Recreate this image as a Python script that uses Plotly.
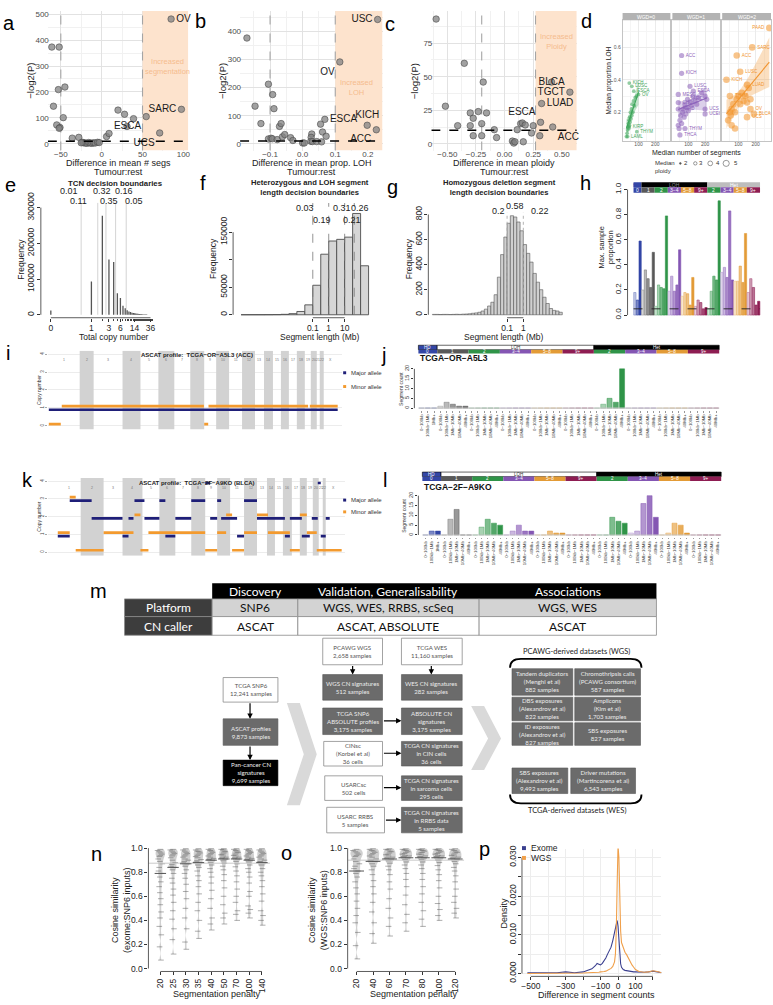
import numpy as np
import plotly.graph_objects as go

W, H = 773, 1005
SANS = "Liberation Sans, Arial, sans-serif"
CAL = "Lato, Open Sans, sans-serif"

# ============================ DATA ============================
# (a) difference in mean number of segments
a_x = [-61, -52, -59, -53, -45, -47, -55, -51, -52, -36, -28, -23.5, -22, -20, -18, -16, -14, -12, -10, -8,
       -5, -3, -25, 6, 9, 20, 28, 31, 39, 54.5, 71, 85, 97.6]
a_y = [373, 373, 145, 209, 219, 101, 73, 63, 60, 22, 25, 6, 4, 3, 2, 5, 3, 2, 4, 3,
       6, 5, 4, 28, 40, 130, 114, 67, 97, 105, 42, 481, 133]
a_lab = [''] * 29 + ['ESCA', 'UCS', 'OV', 'SARC']
# (b) difference in mean proportion LOH
b_x = [-0.171, -0.105, -0.092, -0.088, -0.146, -0.128, -0.105, -0.097, -0.093, -0.078,
       -0.062, -0.071, -0.066, -0.055, -0.037, -0.03, 0.0, 0.005, 0.028, 0.026,
       0.025, 0.03, 0.043, 0.055, 0.061, 0.058, 0.072, 0.068, 0.114, 0.23, 0.198, 0.226]
b_y = [376, 212, 175, 125, 134, 72, 17.5, 20, 18, 15, 25, 62, 72, 33, 22, 12, 3, 3, 35, 23,
       9, 8, 8, 70, 42, 7, 27, 87, 291, 442, 66, 50]
b_lab = [''] * 27 + ['ESCA', 'OV', 'USC', 'KICH', 'ACC']
# (c) difference in mean ploidy
c_x = [-0.598, -0.352, -0.517, -0.187, -0.30, -0.23, -0.158, -0.274, -0.30, -0.41,
       -0.274, -0.2, -0.2, -0.09, -0.07, 0.068, 0.08, 0.09, 0.11, 0.14,
       0.155, 0.18, 0.25, 0.235, 0.163, 0.307, 0.323, 0.314, 0.41, 0.57, 0.42]
c_y = [93, 60, 28, 46, 23, 24, 23, 19, 13.5, 13.5, 6, 15, 6, 10.5, 4.6, 2, 0.5, 1.5, 10.5, 15,
       15.5, 14, 13.5, 8, 1.5, 6, 30, 16, 46, 38.5, 12.5]
c_lab = [''] * 26 + ['LUAD', 'ESCA', 'BLCA', 'TGCT', 'ACC']

# (d) median segments vs median LOH by WGD status
d0_x = [28, 32, 35, 38, 40, 42, 44, 46, 48, 50, 52, 55, 58, 60, 62, 66, 70, 75, 80, 88, 45, 60, 72, 100, 45, 35, 90]
d0_y = [0.05, 0.07, 0.09, 0.11, 0.13, 0.10, 0.15, 0.12, 0.17, 0.14, 0.20, 0.16, 0.22, 0.18, 0.25, 0.20, 0.27,
        0.24, 0.29, 0.30, 0.38, 0.36, 0.33, 0.31, 0.11, 0.05, 0.08]
d0_lab = [''] * 20 + ['KICH', 'LUSC', 'ESCA', 'OV', 'KIRP', 'LAML', 'THYM']
d0_ploidy = [2] * 27
d1_x = [40, 45, 50, 55, 60, 65, 70, 75, 80, 85, 90, 95, 100, 110, 120, 130, 140, 150, 160, 180, 200,
        60, 60, 110, 130, 40, 40, 40, 210, 200, 200, 80, 50]
d1_y = [0.12, 0.10, 0.15, 0.18, 0.13, 0.20, 0.22, 0.17, 0.25, 0.19, 0.23, 0.28, 0.21, 0.26, 0.24, 0.30, 0.27,
        0.25, 0.29, 0.32, 0.30, 0.55, 0.44, 0.36, 0.33, 0.31, 0.26, 0.22, 0.28, 0.22, 0.19, 0.10, 0.06]
d1_lab = [''] * 21 + ['ACC', 'KICH', 'LUSC', 'ESCA', 'MESO', 'CHOL', 'PAAD', 'SARC', 'UCS', 'UCEC', 'THYM', 'THCA']
d1_ploidy = [3] * 33
d2_x = [40, 50, 55, 60, 70, 80, 90, 100, 110, 120, 130, 140, 150, 160, 170, 60, 80,
        280, 180, 90, 110, 30, 150, 50, 190, 170, 150]
d2_y = [0.15, 0.20, 0.18, 0.22, 0.25, 0.20, 0.28, 0.30, 0.25, 0.32, 0.27, 0.30, 0.26, 0.35, 0.28, 0.12, 0.10,
        0.72, 0.60, 0.55, 0.45, 0.40, 0.37, 0.30, 0.19, 0.22, 0.17]
d2_lab = [''] * 17 + ['PAAD', 'SARC', 'ACC', 'LUSC', 'KICH', 'LUAD', 'THYM', 'BLCA', 'OV', 'UCS']
d2_ploidy = [4] * 27

# (e) TCN histogram
e_freq = [12000, 93000, 277000, 155000, 148000, 60000, 47000, 25000, 18000, 13000,
          9500, 7500, 6000, 5000, 4200, 3500, 3000, 2600, 2200, 1900,
          1600, 1400, 1200, 1050, 900, 800, 700, 620, 550, 480,
          420, 380, 340, 300, 270, 240, 210, 190, 170, 150,
          130, 115, 100, 90, 80, 70, 62, 55, 48, 42,
          37, 33, 29, 25, 22, 19, 16, 14, 12, 10]
e_ticks = [0, 1, 3, 6, 14, 36]
e_bounds = [0.5, 1.5, 2.5, 4.5, 8.5]
e_props = ['0.01', '0.11', '0.32', '0.35', '0.16', '0.05']
# (f) het / LOH segment length histogram (log10 Mb bins)
f_bin_lo = [-5.5, -5.0, -4.5, -4.0, -3.5, -3.0, -2.5, -2.0, -1.5, -1.0, -0.5, 0.0, 0.5, 1.0, 1.5, 2.0]
f_counts = [50, 80, 100, 150, 300, 800, 2000, 6000, 18000, 53600, 110000, 134000, 137000, 141000, 184000, 89000]
f_bounds = [0.1, 1, 10, 40]
f_props = ['0.03', '0.19', '0.31', '0.21', '0.26']
# (g) homozygous deletion segment length histogram
g_bin_lo = [-5.6, -5.4, -5.2, -5.0, -4.8, -4.6, -4.4, -4.2, -4.0, -3.8, -3.6, -3.4, -3.2, -3.0,
            -2.8, -2.6, -2.4, -2.2, -2.0, -1.8, -1.6, -1.4, -1.2, -1.0, -0.8, -0.6, -0.4, -0.2,
            0.0, 0.2, 0.4, 0.6, 0.8, 1.0, 1.2, 1.4, 1.6, 1.8, 2.0, 2.2]
g_counts = [3, 3, 2, 3, 3, 2, 3, 4, 3, 5, 6, 8, 12, 15, 20, 30, 45, 70, 100, 160, 300, 480, 620, 730,
            790, 780, 740, 670, 560, 490, 420, 330, 260, 200, 140, 90, 50, 35, 30, 20]
g_bounds = [0.1, 1]
g_props = ['0.2', '0.58', '0.22']

# CN feature categories (shared by h, j, l)
cn_groups = [('HD', '0', 3), ('LOH', '1', 5), ('LOH', '2', 5), ('LOH', '3−4', 5), ('LOH', '5−8', 5),
             ('LOH', '9+', 5), ('Het', '2', 5), ('Het', '3−4', 5), ('Het', '5−8', 5), ('Het', '9+', 5)]
hd_len_labels = ['0−100kb', '100kb−1Mb', '1Mb+']
len_labels = ['0−100kb', '100kb−1Mb', '1Mb−10Mb', '10Mb−40Mb', '40Mb+']
# (h) max sample proportion
h_vals = [0.18, 0.12, 0.59,
          0.20, 0.36, 0.29, 0.22, 0.50,
          0.07, 0.24, 0.22, 0.21, 0.79,
          0.19, 0.31, 0.19, 0.24, 0.52,
          0.15, 0.18, 0.17, 0.08, 0.30,
          0.07, 0.12, 0.10, 0.05, 0.06,
          0.05, 0.19, 0.31, 0.28, 0.91,
          0.34, 0.38, 0.30, 0.83, 0.28,
          0.27, 0.27, 0.39, 0.26, 0.65,
          0.18, 0.29, 0.22, 0.08, 0.11]
# (j) TCGA-OR-A5L3 segment counts
j_vals = [0, 0, 0, 1, 3, 2, 1, 1] + [0] * 20 + [0, 2, 5, 3, 20] + [0] * 15
# (l) TCGA-2F-A9KO segment counts
l_vals = [0, 2, 2, 0, 8, 13, 0, 0, 0, 4, 8, 6, 5, 0, 2, 5, 2, 2, 0, 0, 2, 1, 1, 0, 0, 0, 0, 0,
          0, 0, 9, 7, 6, 1, 2, 16, 20, 9, 0, 1, 6, 5, 1, 0, 0, 0, 0, 0]

# (i) ASCAT profile TCGA-OR-A5L3 (probe-index units)
chrom_names = [str(c) for c in range(1, 23)] + ['X']
i_chr_end = [310, 450, 740, 920, 1100, 1260, 1420, 1560, 1680, 1810, 1940, 2070, 2160, 2250, 2330, 2410,
             2490, 2570, 2630, 2690, 2720, 2760, 2900]
i_major = [(0, 2900, 1)]
i_minor = [(0, 120, 0), (130, 1557, 1), (1560, 1600, 0), (1603, 2603, 1), (2620, 2900, 1)]
# (k) ASCAT profile TCGA-2F-A9KO
k_chr_end = [230, 460, 650, 850, 1020, 1180, 1340, 1480, 1600, 1730, 1870, 2000, 2100, 2180, 2260, 2350,
             2430, 2500, 2560, 2620, 2660, 2690, 2850]
k_major = [(0, 120, 1), (120, 340, 3), (340, 650, 2), (650, 710, 1), (710, 760, 2), (770, 870, 3), (870, 1020, 2),
           (1020, 1080, 3), (1080, 1180, 1), (1180, 1340, 2), (1340, 1480, 3), (1480, 1530, 4), (1530, 1600, 2),
           (1600, 1640, 3), (1640, 1800, 2), (1800, 1870, 1), (1870, 2000, 3), (2000, 2280, 2), (2280, 2330, 1),
           (2330, 2450, 2), (2450, 2530, 1), (2550, 2610, 2), (2610, 2640, 4), (2640, 2690, 1), (2690, 2730, 2)]
k_minor = [(0, 120, 1), (120, 180, 3), (180, 460, 0), (460, 760, 1), (770, 830, 2), (830, 910, 0), (910, 1480, 1),
           (1480, 1600, 0), (1600, 1690, 1), (1690, 1750, 2), (1750, 1870, 0), (1870, 2000, 1), (2000, 2110, 2),
           (2110, 2330, 1), (2330, 2430, 0), (2430, 2500, 2), (2500, 2600, 1), (2600, 2850, 0)]

# (m) table
tab_heads = ['Discovery', 'Validation, Generalisability', 'Associations']
tab_platform = ['SNP6', 'WGS, WES, RRBS, scSeq', 'WGS, WES']
tab_caller = ['ASCAT', 'ASCAT, ABSOLUTE', 'ASCAT']

# (n) cosine similarity exome:SNP6
n_labels = ['20', '25', '30', '35', '40', '50', '70', '100', '140']
n_groups = [
    [0.99, 0.98, 0.97, 0.96, 0.95, 0.94, 0.93, 0.91, 0.89, 0.87, 0.84, 0.81, 0.79, 0.76, 0.72, 0.68, 0.63, 0.58, 0.53, 0.47, 0.42, 0.35, 0.28, 0.18, 0.07],
    [0.99, 0.985, 0.975, 0.965, 0.955, 0.945, 0.935, 0.92, 0.9, 0.88, 0.865, 0.85, 0.84, 0.82, 0.79, 0.75, 0.71, 0.66, 0.61, 0.55, 0.48, 0.41, 0.33, 0.24, 0.12],
    [0.995, 0.985, 0.975, 0.965, 0.955, 0.945, 0.935, 0.925, 0.91, 0.9, 0.89, 0.88, 0.87, 0.85, 0.82, 0.79, 0.75, 0.7, 0.64, 0.58, 0.5, 0.42, 0.33, 0.22, 0.16],
    [0.995, 0.985, 0.975, 0.97, 0.96, 0.95, 0.94, 0.93, 0.92, 0.905, 0.895, 0.885, 0.88, 0.86, 0.84, 0.81, 0.77, 0.73, 0.68, 0.62, 0.55, 0.48, 0.4, 0.31, 0.25],
    [0.995, 0.99, 0.98, 0.975, 0.965, 0.955, 0.945, 0.935, 0.925, 0.915, 0.91, 0.905, 0.9, 0.88, 0.86, 0.83, 0.8, 0.76, 0.71, 0.65, 0.58, 0.5, 0.42, 0.37, 0.32],
    [0.995, 0.99, 0.985, 0.975, 0.97, 0.96, 0.95, 0.945, 0.935, 0.925, 0.92, 0.915, 0.91, 0.895, 0.875, 0.85, 0.82, 0.78, 0.73, 0.67, 0.6, 0.53, 0.46, 0.42, 0.37],
    [0.995, 0.99, 0.98, 0.975, 0.965, 0.96, 0.95, 0.94, 0.935, 0.925, 0.92, 0.915, 0.91, 0.89, 0.87, 0.845, 0.81, 0.77, 0.72, 0.66, 0.6, 0.55, 0.48, 0.45, 0.4],
    [0.995, 0.99, 0.98, 0.97, 0.965, 0.955, 0.945, 0.935, 0.925, 0.915, 0.91, 0.905, 0.9, 0.885, 0.86, 0.83, 0.8, 0.76, 0.71, 0.64, 0.6, 0.52, 0.49, 0.46, 0.42],
    [0.995, 0.985, 0.975, 0.965, 0.955, 0.945, 0.935, 0.925, 0.91, 0.9, 0.89, 0.885, 0.88, 0.86, 0.83, 0.8, 0.77, 0.73, 0.68, 0.62, 0.56, 0.48, 0.44, 0.4, 0.36]]
n_ref = 0.875
# (o) cosine similarity WGS:SNP6
o_labels = ['20', '40', '60', '70', '80', '100', '120']
o_groups = [
    [0.99, 0.98, 0.97, 0.96, 0.95, 0.94, 0.93, 0.91, 0.89, 0.87, 0.85, 0.83, 0.81, 0.79, 0.76, 0.72, 0.67, 0.62, 0.56, 0.5, 0.44, 0.38, 0.3, 0.19, 0.08],
    [0.995, 0.99, 0.98, 0.975, 0.965, 0.955, 0.945, 0.935, 0.925, 0.91, 0.9, 0.895, 0.89, 0.87, 0.85, 0.82, 0.78, 0.73, 0.68, 0.62, 0.55, 0.47, 0.38, 0.29, 0.21],
    [0.995, 0.99, 0.985, 0.975, 0.97, 0.96, 0.95, 0.945, 0.935, 0.925, 0.92, 0.915, 0.91, 0.895, 0.875, 0.85, 0.82, 0.78, 0.72, 0.66, 0.58, 0.5, 0.42, 0.35, 0.27],
    [0.995, 0.99, 0.985, 0.98, 0.97, 0.965, 0.955, 0.95, 0.94, 0.935, 0.93, 0.925, 0.92, 0.905, 0.885, 0.86, 0.83, 0.79, 0.74, 0.68, 0.61, 0.53, 0.45, 0.38, 0.31],
    [0.995, 0.99, 0.985, 0.98, 0.975, 0.965, 0.96, 0.95, 0.945, 0.935, 0.93, 0.925, 0.92, 0.905, 0.885, 0.86, 0.83, 0.79, 0.74, 0.68, 0.62, 0.55, 0.48, 0.41, 0.35],
    [0.995, 0.99, 0.985, 0.98, 0.97, 0.965, 0.955, 0.95, 0.94, 0.935, 0.93, 0.925, 0.92, 0.9, 0.88, 0.855, 0.82, 0.78, 0.73, 0.67, 0.6, 0.54, 0.49, 0.44, 0.4],
    [0.995, 0.99, 0.98, 0.975, 0.965, 0.96, 0.95, 0.94, 0.935, 0.925, 0.92, 0.915, 0.91, 0.89, 0.87, 0.84, 0.81, 0.77, 0.72, 0.66, 0.6, 0.55, 0.5, 0.46, 0.42]]
o_ref = 0.9
# (p) density of segment count differences
p_x = [-520, -500, -450, -400, -350, -300, -250, -200, -175, -150, -130, -120, -110, -100, -90, -80, -70, -60,
       -50, -40, -30, -20, -15, -10, -5, 0, 5, 10, 15, 20, 30, 40, 50, 60, 70, 80, 90, 100, 120, 150, 175,
       200, 225, 250]
p_exome = [0.0002, 0.0002, 0.0002, 0.0001, 0.0002, 0.0004, 0.0002, 0.0004, 0.0008, 0.0012, 0.0020, 0.0026,
           0.0024, 0.0022, 0.0026, 0.0032, 0.0040, 0.0050, 0.0058, 0.0068, 0.0085, 0.0105, 0.0118, 0.0130,
           0.0137, 0.0122, 0.0085, 0.0045, 0.0025, 0.0016, 0.0010, 0.0008, 0.0007, 0.0006, 0.0005, 0.0005,
           0.0004, 0.0004, 0.0003, 0.0003, 0.0004, 0.0006, 0.0004, 0.0002]
p_wgs = [0.0, 0.0, 0.0, 0.0001, 0.0001, 0.0001, 0.0001, 0.0001, 0.0002, 0.0002, 0.0003, 0.0003, 0.0003, 0.0004,
         0.0004, 0.0005, 0.0006, 0.0008, 0.0010, 0.0013, 0.0018, 0.0030, 0.0050, 0.0110, 0.0230, 0.0330, 0.0300,
         0.0180, 0.0110, 0.0080, 0.0065, 0.0055, 0.0048, 0.0038, 0.0028, 0.0022, 0.0016, 0.0010, 0.0005, 0.0003,
         0.0004, 0.0007, 0.0005, 0.0002]

# ============================ HELPERS ============================
fig = go.Figure()
L = dict(width=W, height=H, margin=dict(l=0, r=0, t=0, b=0), paper_bgcolor='white', plot_bgcolor='white',
         showlegend=False, hovermode=False, violinmode='overlay',
         font=dict(family=SANS, size=8, color='#222'))
shapes, annots = [], []


def ref(n, a):
    return a if n == 1 else f"{a}{n}"


def akey(n, a):
    return f"{a}axis" if n == 1 else f"{a}axis{n}"


def axes(n, xd, yd, xa, ya):
    xa = dict(xa); ya = dict(ya)
    xa.update(domain=[xd[0] / W, xd[1] / W], anchor=ref(n, 'y'))
    ya.update(domain=[1 - yd[1] / H, 1 - yd[0] / H], anchor=ref(n, 'x'))
    L[akey(n, 'x')] = xa
    L[akey(n, 'y')] = ya


def cx(v, r):
    return v / W if r == 'paper' else v


def cy(v, r):
    return 1 - v / H if r == 'paper' else v


def T(x, y, s, size=8, color='#222', angle=0, xa='center', ya='middle', fam=SANS, xref='paper', yref='paper'):
    annots.append(dict(x=cx(x, xref), y=cy(y, yref), xref=xref, yref=yref, text=s, showarrow=False,
                       textangle=angle, xanchor=xa, yanchor=ya, font=dict(size=size, color=color, family=fam)))


def rect(x0, y0, x1, y1, fill, lc=None, lw=0, xref='paper', yref='paper'):
    shapes.append(dict(type='rect', xref=xref, yref=yref, x0=cx(x0, xref), x1=cx(x1, xref), y0=cy(y0, yref),
                       y1=cy(y1, yref), fillcolor=fill, line=dict(color=lc or 'rgba(0,0,0,0)', width=lw)))


def poly(pts, fill):
    d = 'M ' + ' L '.join(f'{x / W:.5f},{1 - y / H:.5f}' for x, y in pts) + ' Z'
    shapes.append(dict(type='path', xref='paper', yref='paper', path=d, fillcolor=fill,
                       line=dict(color='rgba(0,0,0,0)', width=0)))


def xline(n, a, b):
    shapes.append(dict(type='line', xref=ref(n, 'x'), yref=ref(n, 'y') + ' domain', x0=a, x1=b, y0=0, y1=0,
                       line=dict(color='#333', width=0.8)))


def yline(n, a, b):
    shapes.append(dict(type='line', xref=ref(n, 'x') + ' domain', yref=ref(n, 'y'), x0=0, x1=0, y0=a, y1=b,
                       line=dict(color='#333', width=0.8)))


def rax(**kw):
    d = dict(showgrid=False, zeroline=False, showline=False, ticks='outside', ticklen=3, tickwidth=0.8,
             tickcolor='#333', tickfont=dict(size=8.5, color='#222', family=SANS))
    d.update(kw)
    return d


def blend(hexc, a):
    h = hexc.lstrip('#')
    r, g, b = int(h[0:2], 16), int(h[2:4], 16), int(h[4:6], 16)
    return 'rgb(%d,%d,%d)' % (round(255 - (255 - r) * a), round(255 - (255 - g) * a), round(255 - (255 - b) * a))


def xy(n):
    return dict(xaxis=ref(n, 'x'), yaxis=ref(n, 'y'))


def fill_rects(n, rects, color):
    xs, ys = [], []
    for x0, x1, y0, y1 in rects:
        xs += [x0, x1, x1, x0, x0, None]; ys += [y0, y0, y1, y1, y0, None]
    fig.add_trace(go.Scatter(x=xs, y=ys, mode='lines', fill='toself', fillcolor=color,
                             line=dict(width=0, color=color), **xy(n)))


def tline(n, x, y, color, width, dash='solid'):
    fig.add_trace(go.Scatter(x=x, y=y, mode='lines', line=dict(color=color, width=width, dash=dash), **xy(n)))


# ============================ a, b, c (volcano-like) ============================
ORANGE_BG = '#FDE3CD'
ORANGE_TX = '#F5BC8E'


def gg_panel(n, xd, xr, yr, xt, xtt, yt, xm, ym, thr, xs, ys, labs, pos, inc_text, inc_xy, xtitle):
    base = dict(showgrid=True, gridcolor='#e2e2e2', gridwidth=0.7, zeroline=False, showline=False, ticks='',
                tickfont=dict(size=8, color='#4d4d4d'))
    xa = dict(base, range=xr, tickvals=xt, ticktext=xtt, ticklabelstandoff=-3,
              minor=dict(dtick=xm, tick0=0, showgrid=True, gridcolor='#f1f1f1', gridwidth=0.5))
    ya = dict(base, range=yr, tickvals=yt, ticklabelstandoff=-2,
              minor=dict(dtick=ym, tick0=0, showgrid=True, gridcolor='#f1f1f1', gridwidth=0.5))
    axes(n, xd, (0, 142), xa, ya)
    fill_rects(n, [(thr[1], xr[1], yr[0], yr[1])], ORANGE_BG)
    for t in thr:
        tline(n, [t, t], yr, '#a5a5a5', 1.1, 'dash')
    fig.add_trace(go.Scatter(x=xs, y=ys, mode='markers+text', text=labs, cliponaxis=False,
                             textposition=[pos.get(l, 'middle right') for l in labs],
                             textfont=dict(size=10, color='#1a1a1a', family=SANS),
                             marker=dict(size=6.5, color='rgba(130,130,130,0.75)',
                                         line=dict(color='#4a4a4a', width=0.6)), **xy(n)))
    tline(n, xr, [10, 10], 'black', 1.5, 'dash')
    T(inc_xy[0], inc_xy[1], inc_text, 7.5, ORANGE_TX, xref=ref(n, 'x'), yref=ref(n, 'y'))
    T(xd[0] - 17, 71, '−log2(P)', 9.5, '#222', angle=-90)
    T((xd[0] + xd[1]) / 2, 155, xtitle, 9, '#222')
    T((xd[0] + xd[1]) / 2, 163.5, 'Tumour:rest', 9, '#222')


gg_panel(1, (47, 188), [-65.9, 106], [-26, 512], [-50, 0, 50, 100], ['−50', '0', '50', '100'],
         [0, 100, 200, 300, 400, 500], 25, 50, [-50, 50], a_x, a_y, a_lab,
         {'ESCA': 'bottom left', 'UCS': 'bottom left', 'OV': 'middle right', 'SARC': 'middle left'},
         'Increased<br>segmentation', (80, 297), 'Difference in mean # segs')
gg_panel(2, (240, 383), [-0.192, 0.245], [-24, 472], [-0.1, 0, 0.1, 0.2], ['−0.1', '0.0', '0.1', '0.2'],
         [0, 100, 200, 300, 400], 0.05, 50, [-0.1, 0.1], b_x, b_y, b_lab,
         {'ESCA': 'middle right', 'OV': 'bottom left', 'USC': 'middle left', 'KICH': 'top center',
          'ACC': 'bottom left'},
         'Increased<br>LOH', (0.165, 200), 'Difference in mean prop. LOH')
gg_panel(3, (432, 578), [-0.64, 0.63], [-5.1, 99], [-0.5, -0.25, 0, 0.25, 0.5],
         ['−0.50', '−0.25', '0.00', '0.25', '0.50'], [0, 25, 50, 75], 0.125, 12.5, [-0.2, 0.27],
         c_x, c_y, c_lab,
         {'LUAD': 'middle right', 'ESCA': 'top left', 'BLCA': 'middle center', 'TGCT': 'middle left',
          'ACC': 'bottom right'},
         'Increased<br>Ploidy', (0.45, 76), 'Difference in mean ploidy')

# ============================ d (facets) ============================
d_sets = [(4, (624, 672), '#3DA65A', d0_x, d0_y, d0_ploidy, d0_lab, 'WGD=0'),
          (5, (674, 722), '#8C62BA', d1_x, d1_y, d1_ploidy, d1_lab, 'WGD=1'),
          (6, (724, 773), '#F2952F', d2_x, d2_y, d2_ploidy, d2_lab, 'WGD=2')]
for k, (n, xd, col, xs, ys, pl, lab, strip) in enumerate(d_sets):
    common = dict(showgrid=True, gridcolor='#ebebeb', gridwidth=0.5, zeroline=False, showline=True, mirror=True,
                  linecolor='#c4c4c4', linewidth=0.6, ticks='', tickfont=dict(size=5, color='#555'))
    xa = dict(common, range=[5, 290], tickvals=[100, 200], ticklabelstandoff=-2,
              minor=dict(dtick=50, tick0=0, showgrid=True, gridcolor='#f5f5f5', gridwidth=0.4))
    ya = dict(common, range=[0.02, 0.768], tickvals=[0.2, 0.4, 0.6], showticklabels=(k == 0),
              minor=dict(dtick=0.1, tick0=0, showgrid=True, gridcolor='#f5f5f5', gridwidth=0.4))
    axes(n, xd, (9.3, 132.7), xa, ya)
    X = np.array(xs, float); Y = np.array(ys, float)
    b1, b0 = np.polyfit(X, Y, 1)
    xx = np.linspace(X.min(), X.max(), 40)
    yy = b0 + b1 * xx
    res = Y - (b0 + b1 * X)
    s = np.sqrt((res ** 2).sum() / (len(X) - 2))
    se = s * np.sqrt(1 / len(X) + (xx - X.mean()) ** 2 / ((X - X.mean()) ** 2).sum())
    h = col.lstrip('#'); rgb = (int(h[0:2], 16), int(h[2:4], 16), int(h[4:6], 16))
    fig.add_trace(go.Scatter(x=list(xx) + list(xx[::-1]), y=list(yy + 2 * se) + list((yy - 2 * se)[::-1]),
                             fill='toself', fillcolor='rgba(%d,%d,%d,0.3)' % rgb, mode='lines',
                             line=dict(width=0), **xy(n)))
    fig.add_trace(go.Scatter(x=xs, y=ys, mode='markers+text', text=lab,
                             textposition=['middle left' if v > 200 else 'middle right' for v in xs],
                             textfont=dict(size=4.5, color=col),
                             marker=dict(size=[1.4 * p + 1 for p in pl], color='rgba(%d,%d,%d,0.8)' % rgb,
                                         line=dict(width=0)), **xy(n)))
    fig.add_trace(go.Scatter(x=xx, y=yy, mode='lines', line=dict(color=col, width=1.1), **xy(n)))
    rect(xd[0], 2, xd[1], 9.3, '#b3b3b3')
    T((xd[0] + xd[1]) / 2, 5.8, strip, 5, 'white')
T(610, 71, 'Median proportion LOH', 6.5, '#222', angle=-90)
T(698, 144, 'Median number of segments', 7, '#222')
T(667, 155, 'Median', 6, '#333')
T(665, 162.5, 'ploidy', 6, '#333')
for cxp, r, filled, lab_, tx in zip([682, 697, 712, 728], [0.9, 1.7, 2.4, 3.1], [True, False, False, False],
                                    ['2', '3', '4', '5'], [688, 703, 720, 738]):
    shapes.append(dict(type='circle', xref='paper', yref='paper', x0=(cxp - r) / W, x1=(cxp + r) / W,
                       y0=1 - (155 + r) / H, y1=1 - (155 - r) / H,
                       fillcolor='#555' if filled else 'rgba(0,0,0,0)', line=dict(color='#555', width=0.6)))
    T(tx, 155, lab_, 6, '#333')

# ============================ e ============================
ex = np.log10(np.arange(len(e_freq)) + 0.1)
axes(7, (40, 185), (195, 312),
     rax(range=[-1.256, 2.45], tickvals=list(np.log10(np.array(e_ticks) + 0.1)), ticktext=[str(t) for t in e_ticks],
         ticklabelstandoff=-1,
         minor=dict(tickvals=list(np.log10(np.arange(0, 41) + 0.1)), ticks='outside', ticklen=2.5,
                    tickcolor='#444', tickwidth=0.6)),
     rax(range=[-8257, 313761], tickvals=[0, 100000, 200000, 300000],
         ticktext=['0', '100000', '200000', '300000'], tickangle=-90, ticklabelstandoff=-1))
for b in e_bounds:
    tline(7, [np.log10(b + 0.1)] * 2, [0, 313761], '#c8c8c8', 0.8)
xs, ys = [], []
for xv, fv in zip(ex, e_freq):
    xs += [xv, xv, None]; ys += [0, fv, None]
tline(7, xs, ys, '#555', 1.3)
xline(7, np.log10(0.1), np.log10(36.1)); yline(7, 0, 300000)
for i_, (lab_, pos) in enumerate(zip(e_props, [0.2, 0.4, 2.0, 3.0, 7.3, 13.2])):
    T(np.log10(pos + 0.1), 183 if i_ % 2 == 0 else 193, lab_, 9, '#222', xref='x7')
T(115, 175, '<b>TCN decision boundaries</b>', 7.8)
T(20, 252, 'Frequency', 8.5, angle=-90)
T(113, 331.5, 'Total copy number', 8.5)

# ============================ f ============================
axes(8, (233, 375), (195, 312),
     rax(range=[-6.0, 2.875], tickvals=[-1, 0, 1], ticktext=['0.1', '1', '10'], ticklabelstandoff=-1),
     rax(range=[-5357, 203571], tickvals=[0, 50000, 100000, 150000], ticktext=['0', '50000', '', '150000'],
         tickangle=-90, ticklabelstandoff=-1))
fig.add_trace(go.Bar(x=[v + 0.25 for v in f_bin_lo], y=f_counts, width=0.5,
                     marker=dict(color='#d6d6d6', line=dict(color='#4d4d4d', width=0.9)), **xy(8)))
for b in f_bounds:
    tline(8, [np.log10(b)] * 2, [0, 203000], '#777', 0.8, 'dash')
xline(8, -1, 1); yline(8, 0, 150000)
for i_, (lab_, pos) in enumerate(zip(f_props, [-1.5, -0.44, 0.81, 1.44, 1.94])):
    T(pos, 200 if i_ % 2 == 0 else 213, lab_, 9, '#222', xref='x8')
T(310, 180, '<b>Heterozygous and LOH segment<br>length decision boundaries</b>', 7.6)
T(213, 252, 'Frequency', 8.5, angle=-90)
T(320, 331.5, 'Segment length (Mb)', 8.5)

# ============================ g ============================
axes(9, (429, 570), (195, 312),
     rax(range=[-5.85, 2.80], tickvals=[-1, 0], ticktext=['0.1', '1'], ticklabelstandoff=-1),
     rax(range=[-23.5, 894], tickvals=[0, 200, 400, 600, 800], tickangle=-90, ticklabelstandoff=-1))
fig.add_trace(go.Bar(x=[v + 0.1 for v in g_bin_lo], y=g_counts, width=0.2,
                     marker=dict(color='#d0d0d0', line=dict(color='#555', width=0.6)), **xy(9)))
for b in g_bounds:
    tline(9, [np.log10(b)] * 2, [0, 815], '#aaa', 0.9, 'dot')
xline(9, -1, 0); yline(9, 0, 800)
for lab_, pos, yy_ in zip(g_props, [-1.55, -0.51, 1.02], [203, 198, 203]):
    T(pos, yy_, lab_, 9, '#222', xref='x9')
T(500, 180, '<b>Homozygous deletion segment<br>length decision boundaries</b>', 7.6)
T(409, 252, 'Frequency', 8.5, angle=-90)
T(505, 331.5, 'Segment length (Mb)', 8.5)

# ============================ CN category bars (h, j, l) ============================
cn_colors = {'0': '#3346A6', '1': '#595959', '2': '#2F9448', '3−4': '#8456B3', '5−8': '#E39B36', '9+': '#8E1D52'}
bar_cols, bar_edges, tick_txt = [], [], []
for top, lab_, kk in cn_groups:
    shades = [0.3, 0.65, 1.0] if kk == 3 else [0.22, 0.42, 0.62, 0.82, 1.0]
    for s_ in shades:
        bar_cols.append(blend(cn_colors[lab_], s_))
        bar_edges.append(blend(cn_colors[lab_], min(1.0, s_ + 0.35)))
    tick_txt += hd_len_labels if kk == 3 else len_labels
NB = len(tick_txt)


def cn_header(n, y0, y1, y2, mode, fs):
    X = ref(n, 'x')
    tops, idx = [], 0
    spans = []
    for top, lab_, kk in cn_groups:
        spans.append((lab_, idx, idx + kk))
        if tops and tops[-1][0] == top:
            tops[-1][2] = idx + kk
        else:
            tops.append([top, idx, idx + kk])
        idx += kk
    for name, s_, e_ in tops:
        if mode == 'h':
            fill = {'HD': cn_colors['0'], 'LOH': '#000000', 'Het': '#bdbdbd'}[name]
            tc = {'HD': cn_colors['0'], 'LOH': '#8a8a8a', 'Het': 'white'}[name]
            rect(s_ - 0.5, y0, e_ - 0.5, y1, fill, xref=X)
        else:
            fill = {'HD': cn_colors['0'], 'LOH': '#ffffff', 'Het': '#000000'}[name]
            tc = {'HD': 'white', 'LOH': '#333', 'Het': 'white'}[name]
            rect(s_ - 0.5, y0, e_ - 0.5, y1, fill, '#000', 0.6, xref=X)
        T((s_ + e_ - 1) / 2, (y0 + y1) / 2, name, fs, tc, xref=X)
    for lab_, s_, e_ in spans:
        rect(s_ - 0.5, y1, e_ - 0.5, y2, cn_colors[lab_], xref=X)
        T((s_ + e_ - 1) / 2, (y1 + y2) / 2, lab_, fs, 'white', xref=X)


# h
axes(10, (629, 764), (176, 312),
     dict(range=[-2.77, 48.26], showticklabels=False, showgrid=False, zeroline=False, ticks=''),
     rax(range=[-0.021, 1.044], tickvals=[0, 0.2, 0.4, 0.6, 0.8, 1.0],
         ticktext=['0.0', '0.2', '0.4', '0.6', '0.8', '1.0'], tickangle=-90, tickfont=dict(size=8, color='#222'),
         ticklabelstandoff=-1))
fig.add_trace(go.Bar(x=list(range(NB)), y=h_vals, width=0.86,
                     marker=dict(color=bar_cols, line=dict(color=bar_edges, width=0.6)), **xy(10)))
tline(10, [-0.5, NB - 0.5], [0.05, 0.05], '#222', 0.9, 'dash')
yline(10, 0, 1.0)
cn_header(10, 174.3, 179.3, 185, 'h', 5)
T(608, 240, 'Max. sample<br>proportion', 7.5, angle=-90)


def seg_panel(n, xd, yd, vals, hy, label, lx, ly, tx):
    axes(n, xd, yd,
         dict(range=[-1.14, 47.66], tickvals=list(range(NB)), ticktext=tick_txt, tickangle=-90,
              tickfont=dict(size=4.3, color='#444'), ticks='outside', ticklen=1.5, tickcolor='#999',
              showgrid=False, zeroline=False),
         rax(range=[-1, 21], tickvals=[0, 5, 10, 15, 20], tickangle=-90, tickfont=dict(size=5.5, color='#333'),
             ticklen=2))
    tline(n, [-0.5, NB - 0.5], [0, 0], '#c8c8c8', 1.2)
    fig.add_trace(go.Bar(x=list(range(NB)), y=vals, width=0.8,
                         marker=dict(color=bar_cols, line=dict(color=bar_edges, width=0.5)), **xy(n)))
    yline(n, 0, 20)
    cn_header(n, hy[0], hy[1], hy[2], 'j', 4.5)
    T(lx, ly, '<b>' + label + '</b>', 8.5, '#111', xa='left')
    T(tx, (yd[0] + yd[1]) / 2, 'Segment count', 5, '#333', angle=-90)


seg_panel(12, (415, 722), (362, 406), j_vals, (340, 344.5, 348.5), 'TCGA−OR−A5L3', 419, 353, 401)
seg_panel(14, (419, 724), (491, 535), l_vals, (469, 473.5, 478), 'TCGA−2F−A9KO', 423, 484, 405)

# ============================ i, k (ASCAT profiles) ============================
NAVY = '#1F1F78'
ORG = '#F39A2E'


def ascat(n, xd, yd, xr, chr_end, major, minor, title, ty, legy):
    axes(n, xd, yd, dict(range=xr, visible=False),
         dict(range=[-0.2, 4.18], tickvals=[0, 1, 2, 3, 4], tickangle=-90, tickfont=dict(size=4.5, color='#444'),
              ticks='outside', ticklen=1.5, tickcolor='#aaa', showgrid=True, gridcolor='#ececec', gridwidth=0.5,
              zeroline=False, showline=False))
    X = ref(n, 'x')
    starts = [0] + chr_end[:-1]
    fill_rects(n, [(s_, e_, -0.2, 4.18) for ci, (s_, e_) in enumerate(zip(starts, chr_end)) if ci % 2 == 1],
               '#d2d2d2')
    for ci, (s_, e_) in enumerate(zip(starts, chr_end)):
        T((s_ + e_) / 2, ty + 5.5, chrom_names[ci], 3.5, '#777', xref=X)
    for segs, col, off in [(minor, ORG, 0.1), (major, NAVY, -0.1)]:
        xs, ys = [], []
        for s_, e_, v in segs:
            xs += [s_, e_, None]; ys += [v + off, v + off, None]
        tline(n, xs, ys, col, 2.6)
    T(197, ty, '<b>' + title + '</b>', 6, '#222')
    T(xd[0] - 9, (yd[0] + yd[1]) / 2, 'Copy number', 5, '#333', angle=-90)
    rect(343.5, legy[0] - 1.5, 346.5, legy[0] + 1.5, NAVY)
    rect(343.5, legy[1] - 1.5, 346.5, legy[1] + 1.5, ORG)
    T(349, legy[0], 'Major allele', 6, '#333', xa='left')
    T(349, legy[1], 'Minor allele', 6, '#333', xa='left')


ascat(11, (47, 342), (345.7, 425.7), [-10, 2940], i_chr_end, i_major, i_minor,
      'ASCAT profile:  TCGA−OR−A5L3 (ACC)', 350, (368, 382))
ascat(13, (47, 345), (475, 554), [-100, 2880], k_chr_end, k_major, k_minor,
      'ASCAT profile:  TCGA−2F−A9KO (BLCA)', 480, (497.5, 509.5))

# ============================ m (table + flowchart) ============================
cols = [124, 212, 298, 480, 658]
rect(212, 582, 658, 598, '#000000')
for i_, s_ in enumerate(tab_heads):
    T((cols[i_ + 1] + cols[i_ + 2]) / 2, 590, s_, 12, 'white', fam=CAL)
rect(124, 598, 212, 616, '#3d3d3d', '#8a8a8a', 0.8)
T(168, 607, 'Platform', 12, 'white', fam=CAL)
rect(124, 616, 212, 635, '#3d3d3d', '#8a8a8a', 0.8)
T(168, 626, 'CN caller', 12, 'white', fam=CAL)
for i_ in range(3):
    rect(cols[i_ + 1], 598, cols[i_ + 2], 616, '#d3d3d3', '#8a8a8a', 0.8)
    T((cols[i_ + 1] + cols[i_ + 2]) / 2, 607, tab_platform[i_], 12, '#111', fam=CAL)
    rect(cols[i_ + 1], 616, cols[i_ + 2], 635, '#ffffff', '#8a8a8a', 0.8)
    T((cols[i_ + 1] + cols[i_ + 2]) / 2, 626, tab_caller[i_], 12, '#111', fam=CAL)

GR = '#6b6b6b'
boxes = [
    (223, 278, 678, 703, 'w', 'TCGA SNP6<br>12,241 samples'),
    (223, 278, 720, 747, 'g', 'ASCAT profiles<br>9,873 samples'),
    (223, 278, 762, 788, 'k', 'Pan-cancer CN<br>signatures<br>9,699 samples'),
    (323, 383, 638, 665, 'w', 'PCAWG WGS<br>2,658 samples'),
    (323, 383, 675, 701, 'g', 'WGS CN signatures<br>512 samples'),
    (323, 383, 709, 736, 'g', 'TCGA SNP6<br>ABSOLUTE profiles<br>3,175 samples'),
    (324, 383, 743, 768, 'w', 'CINsc<br>(Korbel et al)<br>36 cells'),
    (325, 383, 778, 803, 'w', 'USARCsc<br>502 cells'),
    (327, 385, 810, 836, 'w', 'USARC RRBS<br>5 samples'),
    (402, 463, 638, 665, 'w', 'TCGA WES<br>11,160 samples'),
    (402, 463, 675, 701, 'g', 'WES CN signatures<br>282 samples'),
    (402, 463, 709, 736, 'g', 'ABSOLUTE CN<br>signatures<br>3,175 samples'),
    (402, 463, 743, 768, 'g', 'TCGA CN signatures<br>in CIN cells<br>36 cells'),
    (402, 463, 778, 803, 'g', 'TCGA CN signatures<br>in sarcoma cells<br>295 cells'),
    (402, 463, 810, 836, 'g', 'TCGA CN signatures<br>in RRBS data<br>5 samples'),
    (513, 574, 669, 696, 'g', 'Tandem duplicators<br>(Menghi et al)<br>882 samples'),
    (576, 642, 669, 696, 'g', 'Chromothripsis calls<br>(PCAWG consortium)<br>587 samples'),
    (513, 574, 698, 722, 'g', 'DBS exposures<br>(Alexandrov et al)<br>822 samples'),
    (576, 642, 698, 722, 'g', 'Amplicons<br>(Kim et al)<br>1,703 samples'),
    (513, 574, 724, 747, 'g', 'ID exposures<br>(Alexandrov et al)<br>827 samples'),
    (576, 642, 724, 747, 'g', 'SBS exposures<br>827 samples'),
    (513, 569, 770, 796, 'g', 'SBS exposures<br>(Alexandrov et al)<br>9,492 samples'),
    (572, 637, 770, 796, 'g', 'Driver mutations<br>(Martincorena et al)<br>6,543 samples'),
]
for x0, x1, y0, y1, kind, s_ in boxes:
    if kind == 'w':
        rect(x0, y0, x1, y1, '#ffffff', '#8c8c8c', 0.8)
        tc = '#555'
    elif kind == 'g':
        rect(x0, y0, x1, y1, GR, '#555', 0.6)
        tc = '#ececec'
    else:
        rect(x0, y0, x1, y1, '#000000', '#000', 0.6)
        tc = '#f0f0f0'
    T((x0 + x1) / 2, (y0 + y1) / 2, s_, 6.1, tc, fam=CAL)

for x0, y0, x1, y1 in [(250, 703, 250, 720), (250, 747, 250, 762), (353, 665, 353, 675), (432, 665, 432, 675),
                       (383, 722, 402, 722), (383, 755, 402, 755), (383, 790, 402, 790), (385, 823, 402, 823)]:
    annots.append(dict(x=x1 / W, y=1 - y1 / H, xref='paper', yref='paper', ax=x0 - x1, ay=y0 - y1,
                       axref='pixel', ayref='pixel', text='', showarrow=True, arrowhead=2, arrowsize=0.9,
                       arrowwidth=1.2, arrowcolor='black'))
poly([(287, 704), (300, 704), (317, 756), (300, 808), (287, 808), (304, 756)], '#d9d9d9')
poly([(472, 707), (485, 707), (502, 740), (485, 772), (472, 772), (489, 740)], '#d9d9d9')


def bracket(x0, x1, ytip, ybar):
    P = lambda x, y: f'{x / W:.5f},{1 - y / H:.5f}'
    d = (f'M {P(x0, ytip)} Q {P(x0, ybar)} {P(x0 + 11, ybar)} L {P(x1 - 11, ybar)} '
         f'Q {P(x1, ybar)} {P(x1, ytip)}')
    shapes.append(dict(type='path', xref='paper', yref='paper', path=d, fillcolor='rgba(0,0,0,0)',
                       line=dict(color='black', width=1.8)))


bracket(511, 643, 668, 659)
bracket(511, 643, 797, 806)
T(578, 652, 'PCAWG-derived datasets (WGS)', 7.5, '#222', fam=CAL)
T(578, 813, 'TCGA-derived datasets (WES)', 7.5, '#222', fam=CAL)

# ============================ n, o (cosine similarity) ============================


def cos_panel(n, xd, xr, groups, labels, refv, ytitle, ytx):
    axes(n, xd, (848, 977),
         rax(range=xr, tickvals=list(range(len(groups))), ticktext=labels, tickangle=-90),
         rax(range=[-0.0245, 1.029], tickvals=[0, 0.2, 0.4, 0.6, 0.8, 1.0],
             ticktext=['0.0', '0.2', '0.4', '0.6', '0.8', '1.0']))
    tline(n, xr, [refv, refv], '#c4c4c4', 0.9)
    for gi, vals in enumerate(groups):
        fig.add_trace(go.Violin(x=[gi] * len(vals), y=vals, points='all', pointpos=0, jitter=0.7, width=0.75,
                                spanmode='hard', scalemode='width', bandwidth=0.025,
                                line=dict(width=0), fillcolor='rgba(150,150,150,0.45)',
                                box=dict(visible=False), meanline=dict(visible=False),
                                marker=dict(symbol='line-ew', size=4, color='rgba(90,90,90,0.55)',
                                            line=dict(width=0.9, color='rgba(90,90,90,0.55)')), **xy(n)))
        med = float(np.median(vals))
        tline(n, [gi - 0.45, gi + 0.45], [med, med], '#555', 1)
    xline(n, 0, len(groups) - 1); yline(n, 0, 1.0)
    T((xd[0] + xd[1]) / 2 + 8, 1000, 'Segmentation penalty', 9)
    T(ytx, 915, ytitle, 9, angle=-90)


cos_panel(15, (148, 270), [-0.94, 8.63], n_groups, n_labels, n_ref,
          'Cosine similarity<br>(exome:SNP6 inputs)', 120)
cos_panel(16, (348, 465), [-0.545, 6.545], o_groups, o_labels, o_ref,
          'Cosine similarity<br>(WGS:SNP6 inputs)', 318)

# ============================ p (density) ============================
axes(17, (523, 663), (852, 982),
     rax(range=[-551, 249], tickvals=[-500, -400, -300, -200, -100, 0, 100, 200],
         ticktext=['−500', '', '−300', '', '−100', '0', '100', ''], showgrid=True, gridcolor='#ededed',
         gridwidth=0.6, ticklabelstandoff=-2),
     rax(range=[-0.00076, 0.0323], tickvals=[0, 0.005, 0.01, 0.015, 0.02, 0.025, 0.03],
         ticktext=['0.000', '', '0.010', '', '0.020', '', '0.030'], tickangle=-90, showgrid=True,
         gridcolor='#ededed', gridwidth=0.6, ticklabelstandoff=-1))
tline(17, p_x, p_exome, '#3A3F8F', 1.1)
tline(17, p_x, p_wgs, '#F0A04B', 1.1)
xline(17, -500, 200); yline(17, 0, 0.03)
rect(523, 849.5, 527, 853.5, '#3A3F8F')
rect(523, 859.5, 527, 863.5, '#F0A04B')
T(530, 851.5, 'Exome', 8.5, '#222', xa='left')
T(530, 861.5, 'WGS', 8.5, '#222', xa='left')
T(505, 918, 'Density', 9, angle=-90)
T(598, 1000.5, 'Difference in segment counts', 9)

# ============================ panel letters ============================
for lt, x, y in [('a', 8, 12), ('b', 200, 10), ('c', 391, 13), ('d', 588, 10), ('e', 10, 177), ('f', 203, 175),
                 ('g', 393, 179), ('h', 587, 175), ('i', 7, 348), ('j', 384, 350), ('k', 27, 477),
                 ('l', 385, 477), ('m', 98, 590), ('n', 96, 857), ('o', 287, 856), ('p', 485, 852)]:
    T(x, y, lt, 20, '#000')

L['shapes'] = shapes
L['annotations'] = annots
fig.update_layout(**L)
fig.write_html("out.html")
